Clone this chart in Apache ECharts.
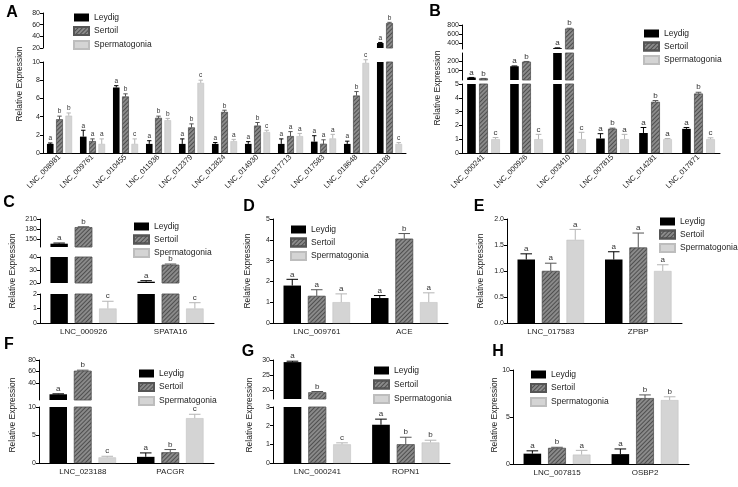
<!DOCTYPE html>
<html><head><meta charset="utf-8">
<script src="https://cdn.jsdelivr.net/npm/echarts@6/dist/echarts.min.js"></script>
<style>html,body{margin:0;padding:0;background:#fff}#c{width:738px;height:487px}</style>
</head><body><div id="c"></div>
<script>
const groups = ['Leydig', 'Sertoil', 'Spermatogonia'];

// Panel A
const catsA = ['LNC_008981','LNC_009761','LNC_010455','LNC_011936','LNC_012379','LNC_012824','LNC_014930','LNC_017713','LNC_017583','LNC_018648','LNC_023188'];
const leydigA = [1.0, 1.8, 7.2, 1.0, 1.0, 1.0, 1.0, 1.0, 1.25, 1.0, 28.5];
const leydigAErr = [0.1, 0.7, 0.2, 0.35, 0.55, 0.15, 0.25, 0.55, 0.65, 0.3, 1.0];
const sertoliA = [3.7, 1.3, 6.2, 3.85, 2.8, 4.5, 3.0, 1.85, 1.0, 6.3, 62.5];
const sertoliAErr = [0.35, 0.25, 0.3, 0.2, 0.4, 0.2, 0.35, 0.5, 0.45, 0.45, 1.5];
const spermA = [4.1, 1.0, 1.0, 3.6, 7.7, 1.3, 2.3, 1.85, 1.6, 9.9, 1.0];
const spermAErr = [0.3, 0.55, 0.55, 0.2, 0.3, 0.2, 0.2, 0.3, 0.45, 0.35, 0.15];
const lettersA = [
  ['a','a','a','a','a','a','a','a','a','a','a'],
  ['b','a','b','b','b','b','b','a','a','b','b'],
  ['b','a','c','b','c','a','c','a','a','c','c']];

// Panel B
const catsB = ['LNC_000241','LNC_000926','LNC_003410','LNC_007815','LNC_014281','LNC_017871'];
const leydigB = [30, 145, 300, 1.05, 1.45, 1.75];
const leydigBErr = [1, 3, 5, 0.35, 0.4, 0.1];
const sertoliB = [20, 190, 720, 1.75, 3.7, 4.3];
const sertoliBErr = [1, 4, 10, 0.05, 0.1, 0.1];
const spermB = [1.0, 1.0, 1.0, 1.0, 1.0, 1.0];
const spermBErr = [0.12, 0.35, 0.5, 0.35, 0.05, 0.1];
const lettersB = [['a','a','a','a','a','a'],['b','b','b','b','b','b'],['c','c','c','a','a','c']];

// Panel C
const catsC = ['LNC_000926','SPATA16'];
const leydigC = [135, 21]; const leydigCErr = [2, 0.8];
const sertoliC = [185, 34]; const sertoliCErr = [1.5, 0.6];
const spermC = [1.0, 1.0]; const spermCErr = [0.5, 0.4];
const lettersC = [['a','a'],['b','b'],['c','c']];

// Panel D
const catsD = ['LNC_009761','ACE'];
const leydigD = [1.8, 1.2]; const leydigDErr = [0.3, 0.12];
const sertoliD = [1.3, 4.05]; const sertoliDErr = [0.3, 0.25];
const spermD = [1.0, 1.0]; const spermDErr = [0.4, 0.45];
const lettersD = [['a','a'],['a','b'],['a','a']];

// Panel E
const catsE = ['LNC_017583','ZPBP'];
const leydigE = [1.22, 1.22]; const leydigEErr = [0.11, 0.15];
const sertoliE = [1.0, 1.45]; const sertoliEErr = [0.15, 0.28];
const spermE = [1.6, 1.0]; const spermEErr = [0.2, 0.12];
const lettersE = [['a','a'],['a','a'],['a','a']];

// Panel F
const catsF = ['LNC_023188','PACGR'];
const leydigF = [20, 1.1]; const leydigFErr = [0.8, 0.7];
const sertoliF = [61, 1.9]; const sertoliFErr = [1.2, 0.5];
const spermF = [1.0, 8.0]; const spermFErr = [0.2, 0.7];
const lettersF = [['a','a'],['b','b'],['c','c']];

// Panel G
const catsG = ['LNC_000241','ROPN1'];
const leydigG = [29.3, 2.05]; const leydigGErr = [0.3, 0.3];
const sertoliG = [19.2, 1.0]; const sertoliGErr = [0.3, 0.38];
const spermG = [1.0, 1.1]; const spermGErr = [0.08, 0.12];
const lettersG = [['a','a'],['b','b'],['c','b']];

// Panel H
const catsH = ['LNC_007815','OSBP2'];
const leydigH = [1.1, 1.05]; const leydigHErr = [0.3, 0.55];
const sertoliH = [1.7, 7.0]; const sertoliHErr = [0.08, 0.35];
const spermH = [1.0, 6.8]; const spermHErr = [0.45, 0.35];
const lettersH = [['a','a'],['b','b'],['a','b']];

// ---------- styling / layout ----------
const FONT = 'Liberation Sans, Arial, sans-serif';
const barStyles = [
  {color: '#000000'},
  {color: '#8a8a8a', borderColor: '#555', borderWidth: 0.5,
   decal: {symbol: 'rect', symbolSize: 1, color: 'rgba(30,30,30,0.55)', dashArrayX: [1, 0], dashArrayY: [1, 2], rotation: -Math.PI / 4}},
  {color: '#d4d4d4', borderColor: '#bdbdbd', borderWidth: 0.5}
];
const errColors = ['#000', '#555', '#b5b5b5'];

const option = {animation: false, backgroundColor: '#fff', grid: [], xAxis: [], yAxis: [], series: [], legend: [], graphic: []};

function segOf(segs, v) {
  for (let k = segs.length - 1; k >= 0; k--) { if (v <= segs[k].max) return k; }
  return 0;
}

function addPanel(p) {
  p.segs.forEach((s, k) => {
    const gi = option.grid.length;
    const isBottom = k === p.segs.length - 1;
    option.grid.push({left: p.left, top: s.top, width: p.width, height: s.bottom - s.top});
    option.xAxis.push({
      type: 'category', gridIndex: gi, data: p.cats, show: isBottom,
      axisLine: {lineStyle: {color: '#000', width: 1}},
      axisTick: {alignWithLabel: true, length: 3, lineStyle: {color: '#000'}},
      axisLabel: {fontSize: p.xFont, color: '#222', fontFamily: FONT, rotate: p.rotate || 0, margin: p.rotate ? 3 : 5, interval: 0}
    });
    const y = {
      type: 'value', gridIndex: gi, min: s.min, max: s.max,
      splitLine: {show: false},
      axisLine: {show: true, onZero: false, lineStyle: {color: '#000', width: 1}},
      axisTick: {show: true, length: 3, lineStyle: {color: '#000'}},
      axisLabel: {fontSize: 7, color: '#222', fontFamily: FONT, margin: 3}
    };
    if (s.interval) y.interval = s.interval;
    if (s.ticks) { y.axisTick.customValues = s.ticks; y.axisLabel.customValues = s.ticks; }
    if (s.fmt) y.axisLabel.formatter = s.fmt;
    option.yAxis.push(y);
    groups.forEach((g, j) => {
      option.series.push({
        type: 'bar', name: g, xAxisIndex: gi, yAxisIndex: gi, data: p.vals[j],
        barWidth: '20%', barGap: '40%', clip: true, itemStyle: barStyles[j], silent: true
      });
    });
    groups.forEach((g, j) => {
      option.series.push({
        type: 'custom', name: 'err_' + g, xAxisIndex: gi, yAxisIndex: gi, silent: true, z: 5,
        data: p.vals[j].map((v, i) => [i, v, p.errs[j][i]]),
        renderItem: (params, api) => {
          const i = api.value(0), v = api.value(1), e = api.value(2);
          if (segOf(p.segs, v) !== k) return null;
          const W = api.size([1, 0])[0];
          const bw = W * 0.2;
          const off = (j - 1) * bw * 1.4;
          const p0 = api.coord([i, v]);
          const p1 = api.coord([i, v + e]);
          const x = p0[0] + off;
          const cap = bw * 0.33;
          return {type: 'group', children: [
            {type: 'line', shape: {x1: x, y1: p0[1], x2: x, y2: p1[1]}, style: {stroke: errColors[j], lineWidth: 1}},
            {type: 'line', shape: {x1: x - cap, y1: p1[1], x2: x + cap, y2: p1[1]}, style: {stroke: errColors[j], lineWidth: 1}},
            {type: 'text', x: x, y: p1[1] - 1, style: {text: p.letters[j][params.dataIndex], fill: '#333', font: p.letterFont + 'px ' + FONT, textAlign: 'center', textVerticalAlign: 'bottom'}}
          ]};
        }
      });
    });
  });
  option.legend.push({
    data: groups, orient: 'vertical', left: p.lg[0], top: p.lg[1], padding: 0,
    itemWidth: 15, itemHeight: 8, itemGap: p.lg[2], icon: 'rect', selectedMode: false,
    textStyle: {fontSize: 8.5, color: '#222', fontFamily: FONT}
  });
  option.graphic.push({type: 'text', x: p.title[0], y: p.title[1], style: {text: p.name, font: 'bold 16px ' + FONT, fill: '#000', textAlign: 'center', textVerticalAlign: 'middle'}});
  option.graphic.push({type: 'text', x: p.yname[0], y: p.yname[1], rotation: Math.PI / 2, style: {text: 'Relative Expression', font: '8.5px ' + FONT, fill: '#222', textAlign: 'center', textVerticalAlign: 'middle'}});
}

addPanel({name: 'A', cats: catsA, vals: [leydigA, sertoliA, spermA], errs: [leydigAErr, sertoliAErr, spermAErr], letters: lettersA,
  left: 43, width: 363, rotate: 45, xFont: 7.5, letterFont: 6.5, lg: [73, 13, 4], title: [12, 13], yname: [20, 84],
  segs: [{top: 13, bottom: 48, min: 20, max: 80, interval: 20}, {top: 62, bottom: 153, min: 0, max: 10, interval: 2}]});
addPanel({name: 'B', cats: catsB, vals: [leydigB, sertoliB, spermB], errs: [leydigBErr, sertoliBErr, spermBErr], letters: lettersB,
  left: 462, width: 258, rotate: 45, xFont: 7.5, letterFont: 8, lg: [643, 29, 3.5], title: [435, 12], yname: [438, 88],
  segs: [{top: 25, bottom: 49, min: 280, max: 800, ticks: [400, 600, 800]}, {top: 53, bottom: 80, min: 5, max: 280, ticks: [100, 200]}, {top: 84, bottom: 153, min: 0, max: 5, interval: 1}]});
addPanel({name: 'C', cats: catsC, vals: [leydigC, sertoliC, spermC], errs: [leydigCErr, sertoliCErr, spermCErr], letters: lettersC,
  left: 40, width: 174, xFont: 8, letterFont: 8, lg: [133, 222, 3.5], title: [9, 203], yname: [13, 271],
  segs: [{top: 219, bottom: 247, min: 125, max: 210, ticks: [150, 180, 210]}, {top: 257, bottom: 283, min: 20, max: 40, interval: 10}, {top: 294, bottom: 323, min: 0, max: 2, interval: 1}]});
addPanel({name: 'D', cats: catsD, vals: [leydigD, sertoliD, spermD], errs: [leydigDErr, sertoliDErr, spermDErr], letters: lettersD,
  left: 273, width: 175, xFont: 8, letterFont: 8, lg: [290, 225, 3.5], title: [249, 207], yname: [248, 271],
  segs: [{top: 219, bottom: 323, min: 0, max: 5, interval: 1}]});
addPanel({name: 'E', cats: catsE, vals: [leydigE, sertoliE, spermE], errs: [leydigEErr, sertoliEErr, spermEErr], letters: lettersE,
  left: 507, width: 175, xFont: 8, letterFont: 8, lg: [659, 217, 3.5], title: [479, 207], yname: [481, 271],
  segs: [{top: 219, bottom: 323, min: 0, max: 2, interval: 0.5, fmt: v => v.toFixed(1)}]});
addPanel({name: 'F', cats: catsF, vals: [leydigF, sertoliF, spermF], errs: [leydigFErr, sertoliFErr, spermFErr], letters: lettersF,
  left: 39, width: 175, xFont: 8, letterFont: 8, lg: [138, 369, 4], title: [9, 345], yname: [13, 415],
  segs: [{top: 360, bottom: 400, min: 10, max: 80, ticks: [40, 60, 80]}, {top: 407, bottom: 463, min: 0, max: 10, interval: 5}]});
addPanel({name: 'G', cats: catsG, vals: [leydigG, sertoliG, spermG], errs: [leydigGErr, sertoliGErr, spermGErr], letters: lettersG,
  left: 273, width: 177, xFont: 8, letterFont: 8, lg: [373, 366, 4.5], title: [248, 352], yname: [250, 415],
  segs: [{top: 360, bottom: 399, min: 17, max: 30, ticks: [20, 25, 30]}, {top: 407, bottom: 463, min: 0, max: 3, interval: 1}]});
addPanel({name: 'H', cats: catsH, vals: [leydigH, sertoliH, spermH], errs: [leydigHErr, sertoliHErr, spermHErr], letters: lettersH,
  left: 513, width: 176, xFont: 8, letterFont: 8, lg: [530, 370, 4], title: [498, 352], yname: [495, 415],
  segs: [{top: 370, bottom: 464, min: 0, max: 10, interval: 5}]});

const chart = echarts.init(document.getElementById('c'), null, {renderer: 'canvas'});
chart.setOption(option);
</script></body></html>
